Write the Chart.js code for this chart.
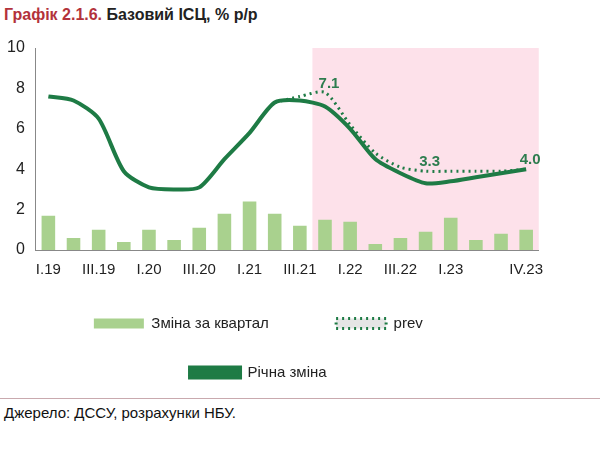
<!DOCTYPE html>
<html><head><meta charset="utf-8">
<script src="https://cdn.jsdelivr.net/npm/chart.js@4"></script>
<style>
body{margin:0;width:600px;height:452px;background:#fff;font-family:"Liberation Sans",Arial,sans-serif;position:relative;overflow:hidden}
#title{position:absolute;left:4px;top:6px;font-size:16px;color:#222}
#title b{color:#b3323b}
#title .rest{font-weight:bold}
.rule{position:absolute;left:0;width:600px;border-top:1px solid #c9a9ae}
#src{position:absolute;left:4px;top:404px;font-size:15px;color:#111}
#wrap{position:absolute;left:0;top:28px;width:546px;height:362px}
</style></head><body>
<div id="title"><b>Графік 2.1.6.</b> <span class="rest">Базовий ІСЦ, % р/р</span></div>
<div class="rule" style="top:398px"></div>
<div id="wrap"><canvas id="c"></canvas></div>
<div id="src">Джерело: ДССУ, розрахунки НБУ.</div>
<script>
const quarters = ['I.19','II.19','III.19','IV.19','I.20','II.20','III.20','IV.20','I.21','II.21','III.21','IV.21','I.22','II.22','III.22','IV.22','I.23','II.23','III.23','IV.23'];
const tickLabels = ['I.19','','III.19','','I.20','','III.20','','I.21','','III.21','','I.22','','III.22','','I.23','','','IV.23'];
const quarterChange = [1.7,0.6,1.0,0.4,1.0,0.5,1.1,1.8,2.4,1.8,1.2,1.5,1.4,0.3,0.6,0.9,1.6,0.5,0.8,1.0];
const yearlyChange = [7.6,7.4,6.5,3.9,3.1,3.0,3.1,4.5,5.8,7.3,7.4,7.1,6.0,4.5,3.8,3.3,3.4,3.6,3.8,4.0];
const prevForecast = [null,null,null,null,null,null,null,null,null,7.3,7.6,7.8,6.2,4.8,4.1,3.9,3.9,3.9,3.9,4.0];
const valueLabels = {11:'7.1',15:'3.3',19:'4.0'};

const shade = {
  id:'shade',
  beforeDatasetsDraw(ch){
    const {ctx,chartArea:a,scales:{x}} = ch;
    const left = (x.getPixelForValue(10)+x.getPixelForValue(11))/2;
    ctx.save();ctx.fillStyle='#fde1ea';
    ctx.fillRect(left,a.top,a.right-left,a.bottom-a.top);
    ctx.restore();
  },
  afterDatasetsDraw(ch){
    const {ctx,scales:{x,y}} = ch;
    ctx.save();ctx.fillStyle='#2e7d4f';ctx.font='bold 15px "Liberation Sans",Arial';ctx.textAlign='center';
    for (const i in valueLabels){
      const v = Math.max(yearlyChange[i], prevForecast[i]||0);
      ctx.fillText(valueLabels[i], x.getPixelForValue(+i)+4, y.getPixelForValue(v)-9);
    }
    ctx.restore();
  }
};

new Chart(document.getElementById('c'),{
  data:{labels:quarters,datasets:[
    {type:'line',label:'Річна зміна',data:yearlyChange,borderColor:'#1e7b45',backgroundColor:'#1e7b45',borderWidth:4,pointRadius:0,tension:0.25,order:1},
    {type:'line',label:'prev',data:prevForecast,borderColor:'#1e7b45',borderWidth:3,borderDash:[2,4],pointRadius:0,tension:0.25,order:2},
    {type:'bar',label:'Зміна за квартал',data:quarterChange,backgroundColor:'#a9d18e',categoryPercentage:0.9,barPercentage:0.6,order:3}
  ]},
  options:{
    responsive:true,maintainAspectRatio:false,animation:false,
    layout:{padding:{left:4,right:0,top:20}},
    plugins:{
      legend:{position:'bottom',reverse:true,labels:{filter:i=>i.text!=='prev',font:{size:15,family:'"Liberation Sans",Arial'},color:'#222',boxWidth:50,boxHeight:10,padding:34,
        generateLabels(ch){
          const l = Chart.defaults.plugins.legend.labels.generateLabels(ch);
          l.forEach(it=>{ if(it.text==='Річна зміна'){it.lineWidth=4;} it.text = it.text + '        '; });
          return l;
        }}},
      tooltip:{enabled:false}
    },
    scales:{
      x:{grid:{display:false},border:{color:'#888'},ticks:{autoSkip:false,maxRotation:0,color:'#222',font:{size:15,family:'"Liberation Sans",Arial'},callback:(v,i)=>tickLabels[i]}},
      y:{min:0,max:10,grid:{display:false},border:{color:'#888'},ticks:{stepSize:2,color:'#222',font:{size:16,family:'"Liberation Sans",Arial'}}}
    }
  },
  plugins:[shade]
});
</script>
</body></html>
